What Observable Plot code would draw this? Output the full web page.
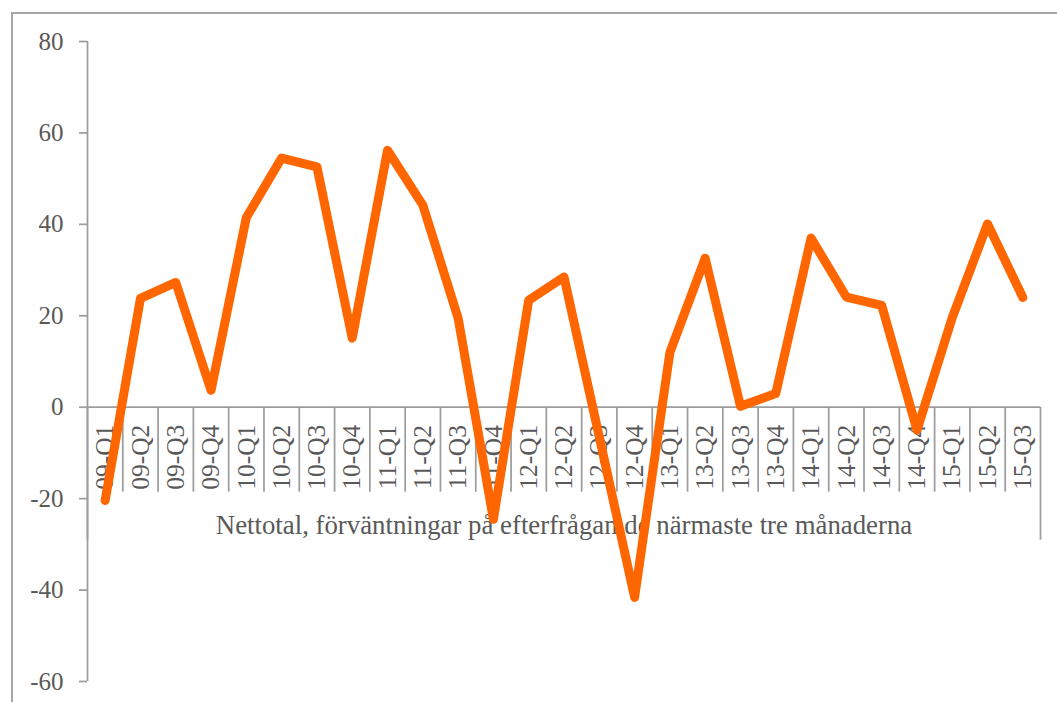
<!DOCTYPE html>
<html>
<head>
<meta charset="utf-8">
<script src="https://cdn.jsdelivr.net/npm/d3@7"></script>
<script src="https://cdn.jsdelivr.net/npm/@observablehq/plot@0.6"></script>
<style>
  html, body { margin: 0; padding: 0; background: #fff; }
  #wrap { position: relative; width: 1057px; height: 702px; overflow: hidden; }
  #border { position: absolute; left: 11px; top: 12px; width: 1200px; height: 900px; border: 2px solid #a6a6a6; box-sizing: border-box; pointer-events: none; }
  #wrap svg, #wrap svg text { font-family: "Liberation Serif", "Times New Roman", serif !important; }
</style>
</head>
<body>
<div id="wrap"><div id="border"></div></div>
<script>
const categories = ["09-Q1","09-Q2","09-Q3","09-Q4","10-Q1","10-Q2","10-Q3","10-Q4","11-Q1","11-Q2","11-Q3","11-Q4","12-Q1","12-Q2","12-Q3","12-Q4","13-Q1","13-Q2","13-Q3","13-Q4","14-Q1","14-Q2","14-Q3","14-Q4","15-Q1","15-Q2","15-Q3"];
const values = [-20.4, 23.8, 27.3, 3.7, 41.5, 54.5, 52.6, 15.1, 56.2, 44.2, 19.5, -24.5, 23.4, 28.5, -6.5, -41.6, 12.0, 32.6, 0.2, 3.0, 37.0, 24.1, 22.3, -5.0, 19.6, 40.1, 24.0];
const yTicks = [-60, -40, -20, 0, 20, 40, 60, 80];
const axisTitle = "Nettotal, förväntningar på efterfrågan de närmaste tre månaderna";

const font = "Liberation Serif";
const gray = "#9d9d9d";
const textColor = "#595959";

const data = values.map((v, i) => ({i, cat: categories[i], v}));
const n = categories.length;
const xDomain = [-0.5, n - 0.5];
const boundaries = d3.range(n + 1).map(k => k - 0.5);
const innerBounds = boundaries.slice(1, -1);
const outerBounds = [boundaries[0], boundaries[n]];

const chart = Plot.plot({
  width: 1057,
  height: 702,
  marginLeft: 87,
  marginRight: 17,
  marginTop: 41,
  marginBottom: 21,
  style: {background: "transparent", fontFamily: font, fontSize: "25px", color: textColor},
  x: {type: "linear", domain: xDomain, axis: null},
  y: {domain: [-60, 80], axis: null},
  marks: [
    Plot.axisY(yTicks, {
      anchor: "left",
      tickSize: 8,
      tickPadding: 16,
      tickFormat: d => String(d),
      color: textColor,
      stroke: gray,
      strokeWidth: 1.75,
      fontSize: 25,
      fontFamily: font,
      label: null
    }),
    Plot.ruleX([xDomain[0]], {stroke: gray, strokeWidth: 1.75}),
    Plot.ruleY([0], {stroke: gray, strokeWidth: 1.75}),
    Plot.ruleX(innerBounds, {x: d => d, y1: () => 0, y2: () => 0, insetBottom: -85, stroke: gray, strokeWidth: 1.75}),
    Plot.ruleX(outerBounds, {x: d => d, y1: () => 0, y2: () => 0, insetBottom: -133, stroke: gray, strokeWidth: 1.75}),
    Plot.text(data, {x: "i", y: () => 0, text: "cat", rotate: -90, dy: 50, fill: textColor, fontSize: 25.5, fontFamily: font, textAnchor: "middle", lineAnchor: "middle"}),
    Plot.text([axisTitle], {y: () => 0, text: d => d, dy: 118, frameAnchor: "middle", fill: textColor, fontSize: 26.8, fontFamily: font, textAnchor: "middle", lineAnchor: "middle"}),
    Plot.line(data, {x: "i", y: "v", stroke: "#ff6600", strokeWidth: 9, strokeLinejoin: "round", strokeLinecap: "round"})
  ]
});
document.getElementById("wrap").prepend(chart);
</script>
</body>
</html>
